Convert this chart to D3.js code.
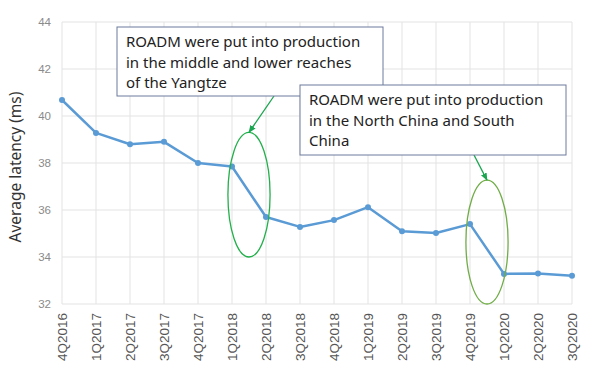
<!DOCTYPE html>
<html>
<head>
<meta charset="utf-8">
<script src="https://cdn.jsdelivr.net/npm/d3@7"></script>
<style>
  body { margin: 0; background: #fff; }
  svg { font-family: "Microsoft YaHei", "Noto Sans", "DejaVu Sans", sans-serif; }
</style>
</head>
<body>
<svg id="chart" width="600" height="375"></svg>
<script>
// quarters on x axis
var quarters = ["4Q2016", "1Q2017", "2Q2017", "3Q2017", "4Q2017", "1Q2018", "2Q2018", "3Q2018",
  "4Q2018", "1Q2019", "2Q2019", "3Q2019", "4Q2019", "1Q2020", "2Q2020", "3Q2020"];
// average latency, ms
var latency = [40.68, 39.28, 38.8, 38.9, 38.0, 37.85, 35.7, 35.28,
  35.57, 36.12, 35.1, 35.02, 35.4, 33.28, 33.3, 33.2];
var yTicks = [32, 34, 36, 38, 40, 42, 44];

// callouts: text lines, and the quarters between which the ellipse sits
var noteLines1 = ["ROADM were put into production", "in the middle and lower reaches", "of the Yangtze"];
var noteLines2 = ["ROADM were put into production", "in the North China and South", "China"];
var noteSpan1 = ["1Q2018", "2Q2018"];
var noteSpan2 = ["4Q2019", "1Q2020"];

var margin = {top: 22, right: 28, bottom: 71, left: 62};
var width = 600 - margin.left - margin.right;
var height = 375 - margin.top - margin.bottom;

var svg = d3.select("#chart");
var g = svg.append("g").attr("transform", "translate(" + margin.left + "," + margin.top + ")");

var x = d3.scalePoint().domain(quarters).range([0, width]);
var y = d3.scaleLinear().domain([32, 44]).range([height, 0]);

// grid
g.selectAll(".hgrid").data(yTicks).enter().append("line")
  .attr("x1", 0).attr("x2", width)
  .attr("y1", function(d) { return y(d); }).attr("y2", function(d) { return y(d); })
  .attr("stroke", "#e3e3e3").attr("stroke-width", 1);
g.selectAll(".vgrid").data(quarters).enter().append("line")
  .attr("x1", function(d) { return x(d); }).attr("x2", function(d) { return x(d); })
  .attr("y1", 0).attr("y2", height)
  .attr("stroke", "#e3e3e3").attr("stroke-width", 1);

// y axis
var yAxis = g.append("g")
  .call(d3.axisLeft(y).tickValues(yTicks).tickSize(0).tickPadding(11));
yAxis.select(".domain").remove();
yAxis.selectAll("text").attr("fill", "#8a8a8a").style("font-size", "11.5px");

// x axis
var xAxis = g.append("g")
  .attr("transform", "translate(0," + height + ")")
  .call(d3.axisBottom(x).tickSize(0));
xAxis.select(".domain").remove();
xAxis.selectAll("text")
  .attr("fill", "#555")
  .style("font-size", "13.5px")
  .attr("text-anchor", "end")
  .attr("transform", "rotate(-90)")
  .attr("x", -9)
  .attr("y", 0)
  .attr("dy", "0.35em");

// y title
svg.append("text")
  .attr("transform", "translate(21," + (margin.top + height / 2 + 4) + ") rotate(-90)")
  .attr("text-anchor", "middle")
  .attr("fill", "#333")
  .style("font-size", "15.5px")
  .text("Average latency (ms)");

// line
var line = d3.line()
  .x(function(d, i) { return x(quarters[i]); })
  .y(function(d) { return y(d); });

g.append("path")
  .datum(latency)
  .attr("d", line)
  .attr("fill", "none")
  .attr("stroke", "#5b9bd5")
  .attr("stroke-width", 2.5)
  .attr("stroke-linejoin", "round");

g.selectAll(".dot").data(latency).enter().append("circle")
  .attr("cx", function(d, i) { return x(quarters[i]); })
  .attr("cy", function(d) { return y(d); })
  .attr("r", 3)
  .attr("fill", "#5b9bd5");

// arrow head
var defs = svg.append("defs");
defs.append("marker")
  .attr("id", "arr")
  .attr("viewBox", "0 0 10 10")
  .attr("refX", 9).attr("refY", 5)
  .attr("markerWidth", 6).attr("markerHeight", 6)
  .attr("orient", "auto")
  .append("path").attr("d", "M0,1 L10,5 L0,9 Z").attr("fill", "#1aa550");

function ellipseFor(span, yTop, yBot, color) {
  var cx = (x(span[0]) + x(span[1])) / 2;
  var rx = (x(span[1]) - x(span[0])) * 0.62;
  g.append("ellipse")
    .attr("cx", cx)
    .attr("cy", (y(yTop) + y(yBot)) / 2)
    .attr("rx", rx)
    .attr("ry", (y(yBot) - y(yTop)) / 2)
    .attr("fill", "none")
    .attr("stroke", color)
    .attr("stroke-width", 1.3);
  return {cx: cx, top: y(yTop)};
}

var e1 = ellipseFor(noteSpan1, 39.3, 34.0, "#22b04b");
var e2 = ellipseFor(noteSpan2, 37.27, 32.0, "#70ad47");

function callout(lines, bx, by, bw, bh, ax, target) {
  g.append("line")
    .attr("x1", ax).attr("y1", by + bh)
    .attr("x2", target.cx).attr("y2", target.top)
    .attr("stroke", "#1aa550").attr("stroke-width", 1.3)
    .attr("marker-end", "url(#arr)");
  g.append("rect")
    .attr("x", bx).attr("y", by).attr("width", bw).attr("height", bh)
    .attr("fill", "#fff").attr("stroke", "#6c7a9c").attr("stroke-width", 1);
  g.append("text")
    .attr("x", bx + 9).attr("y", by + 20)
    .attr("fill", "#222")
    .style("font-size", "15px")
    .selectAll("tspan").data(lines).enter().append("tspan")
    .attr("x", bx + 9)
    .attr("dy", function(d, i) { return i === 0 ? 0 : 20.5; })
    .text(function(d) { return d; });
}

callout(noteLines1, 55, 5, 266, 69, 212, e1);
callout(noteLines2, 238, 63, 266, 70, 412, e2);
</script>
</body>
</html>
